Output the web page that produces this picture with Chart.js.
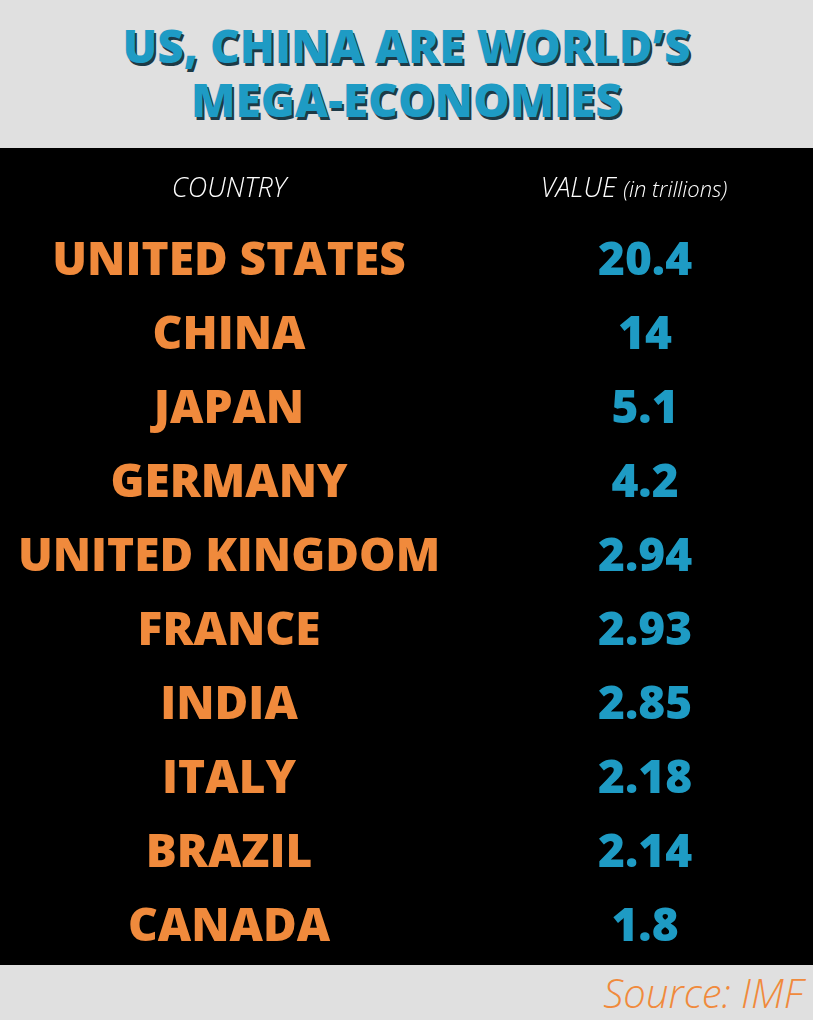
<!DOCTYPE html>
<html><head><meta charset="utf-8">
<script src="https://cdn.jsdelivr.net/npm/chart.js@4"></script>
<style>
html,body{margin:0;padding:0;width:813px;height:1020px;overflow:hidden;font-family:"Open Sans",sans-serif}
#top{position:absolute;left:0;top:0;width:813px;height:148px;background:#e0e0e0}
#title{position:absolute;left:0;top:18px;width:813px;text-align:center;color:#1e9bc4;font-weight:800;font-size:46px;line-height:54px;text-shadow:2px 3px 0 #1d3a46;letter-spacing:0px}
#mid{position:absolute;left:0;top:148px;width:813px;height:817px;background:#000}
#bot{position:absolute;left:0;top:965px;width:813px;height:55px;background:#e0e0e0}
#src{position:absolute;right:10px;top:965px;color:#f08a3c;font-size:40px;line-height:55px;font-weight:300;font-style:italic}
.h{position:absolute;top:168px;color:#fff;font-style:italic;font-size:27px;font-weight:300;transform:translateX(-50%);white-space:nowrap}
</style></head><body>
<div id="top"></div><div id="title">US, CHINA ARE WORLD’S<br>MEGA-ECONOMIES</div>
<div id="mid"><canvas id="c" width="813" height="817"></canvas></div>
<div class="h" style="left:229px">COUNTRY</div>
<div class="h" style="left:634px">VALUE <span style="font-size:22px">(in trillions)</span></div>
<div id="bot"></div><div id="src">Source: IMF</div>
<script>
const countries=["UNITED STATES","CHINA","JAPAN","GERMANY","UNITED KINGDOM","FRANCE","INDIA","ITALY","BRAZIL","CANADA"];
const valueLabels=["20.4","14","5.1","4.2","2.94","2.93","2.85","2.18","2.14","1.8"];
const values=[20.4,14,5.1,4.2,2.94,2.93,2.85,2.18,2.14,1.8];
const textPlugin={id:'tbl',afterDatasetsDraw(chart){
  const ctx=chart.ctx,y=chart.scales.y;
  ctx.save();ctx.textAlign='center';ctx.textBaseline='middle';
  ctx.font='800 46px "Open Sans"';
  chart.data.labels.forEach((l,i)=>{
    const py=y.getPixelForValue(i);
    ctx.fillStyle='#f08a3c';ctx.fillText(l,229,py);
    ctx.fillStyle='#1e9bc4';ctx.fillText(valueLabels[i],645,py);
  });
  ctx.restore();}};
new Chart(document.getElementById('c'),{type:'bar',
 data:{labels:countries,datasets:[{data:values,backgroundColor:'rgba(0,0,0,0)'}]},
 options:{responsive:false,animation:false,indexAxis:'y',
  layout:{padding:{top:77,bottom:0,left:0,right:0}},
  plugins:{legend:{display:false},tooltip:{enabled:false}},
  scales:{x:{display:false},y:{display:false}}},
 plugins:[textPlugin]});
</script></body></html>
